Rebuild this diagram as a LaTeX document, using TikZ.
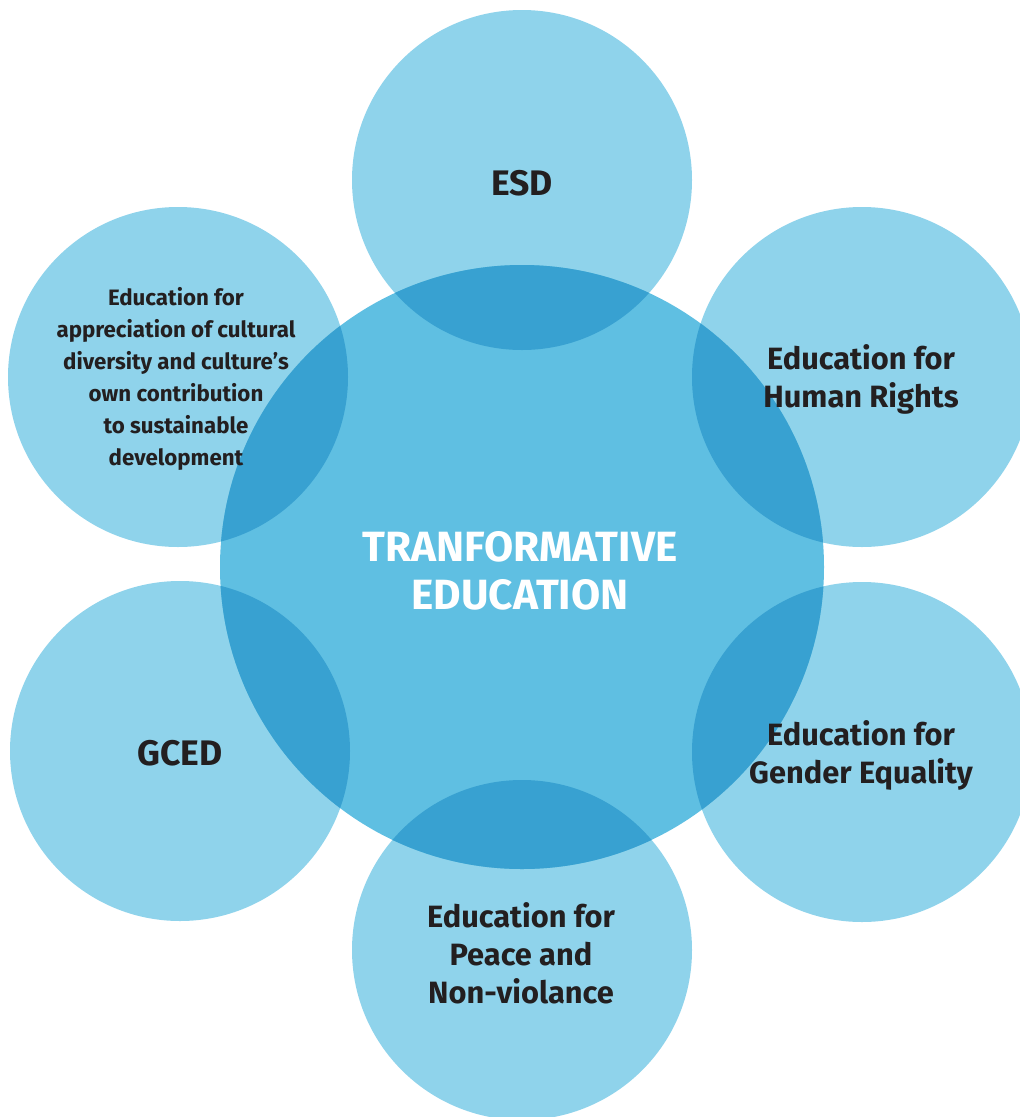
\documentclass[tikz,border=0pt]{standalone}
\usepackage{fontspec}
\setmainfont{Fira Sans}[UprightFont=* Bold, BoldFont=* Bold]
\usepackage{xcolor}
\usepackage{tikz}
\definecolor{ink}{HTML}{231F20}
\definecolor{pale}{HTML}{8FD3EB}
\definecolor{mid}{HTML}{5FBFE2}
\definecolor{deep}{HTML}{38A1D1}
\tikzset{
  outerCircle/.style={circle, fill=pale, minimum size=340pt, inner sep=0pt},
  coreCircle/.style={circle, fill=mid, minimum size=604pt, inner sep=0pt},
  overlapFill/.style={fill=deep},
  outerLabel/.style={text=ink, align=center, font=\fontsize{30.8}{38}\selectfont},
  smallLabel/.style={text=ink, align=center, font=\fontsize{22.3}{32}\selectfont},
  bigLabel/.style={text=ink, font=\fontsize{35.5}{38}\selectfont},
  coreLabel/.style={text=white, align=center, font=\fontsize{42.3}{48}\selectfont}
}
\begin{document}
\begin{tikzpicture}[x=1pt, y=-1pt]
  \clip (0,0) rectangle (1020,1117);

  \node[outerCircle] (esd) at (522,180) {};
  \node[outerCircle] (rights) at (862,377) {};
  \node[outerCircle] (gender) at (862,752) {};
  \node[outerCircle] (peace) at (522,950) {};
  \node[outerCircle] (gced) at (180,751) {};
  \node[outerCircle] (culture) at (178,377) {};

  \node[coreCircle] (core) at (522,567) {};

  % darker lens where the outer circles cut into the core
  \begin{scope}
    \clip (core.center) circle (302);
    \foreach \c in {esd,rights,gender,peace,gced,culture}
      \fill[overlapFill] (\c.center) circle (170);
  \end{scope}

  \node[bigLabel] (esdT) at (522,183) {ESD};
  \node[outerLabel] (rightsT) at (861,379) {Education for\\Human Rights};
  \node[outerLabel] (genderT) at (861,755) {Education for\\Gender Equality};
  \node[outerLabel] (peaceT) at (521,953) {Education for\\Peace and\\Non-violance};
  \node[bigLabel] (gcedT) at (180,753) {GCED};
  \node[smallLabel] (cultureT) at (176,379) {Education for\\appreciation of cultural\\diversity and culture’s\\own contribution\\to sustainable\\development};
  \node[coreLabel] (coreT) at (520,571) {TRANFORMATIVE\\EDUCATION};
\end{tikzpicture}
\end{document}
